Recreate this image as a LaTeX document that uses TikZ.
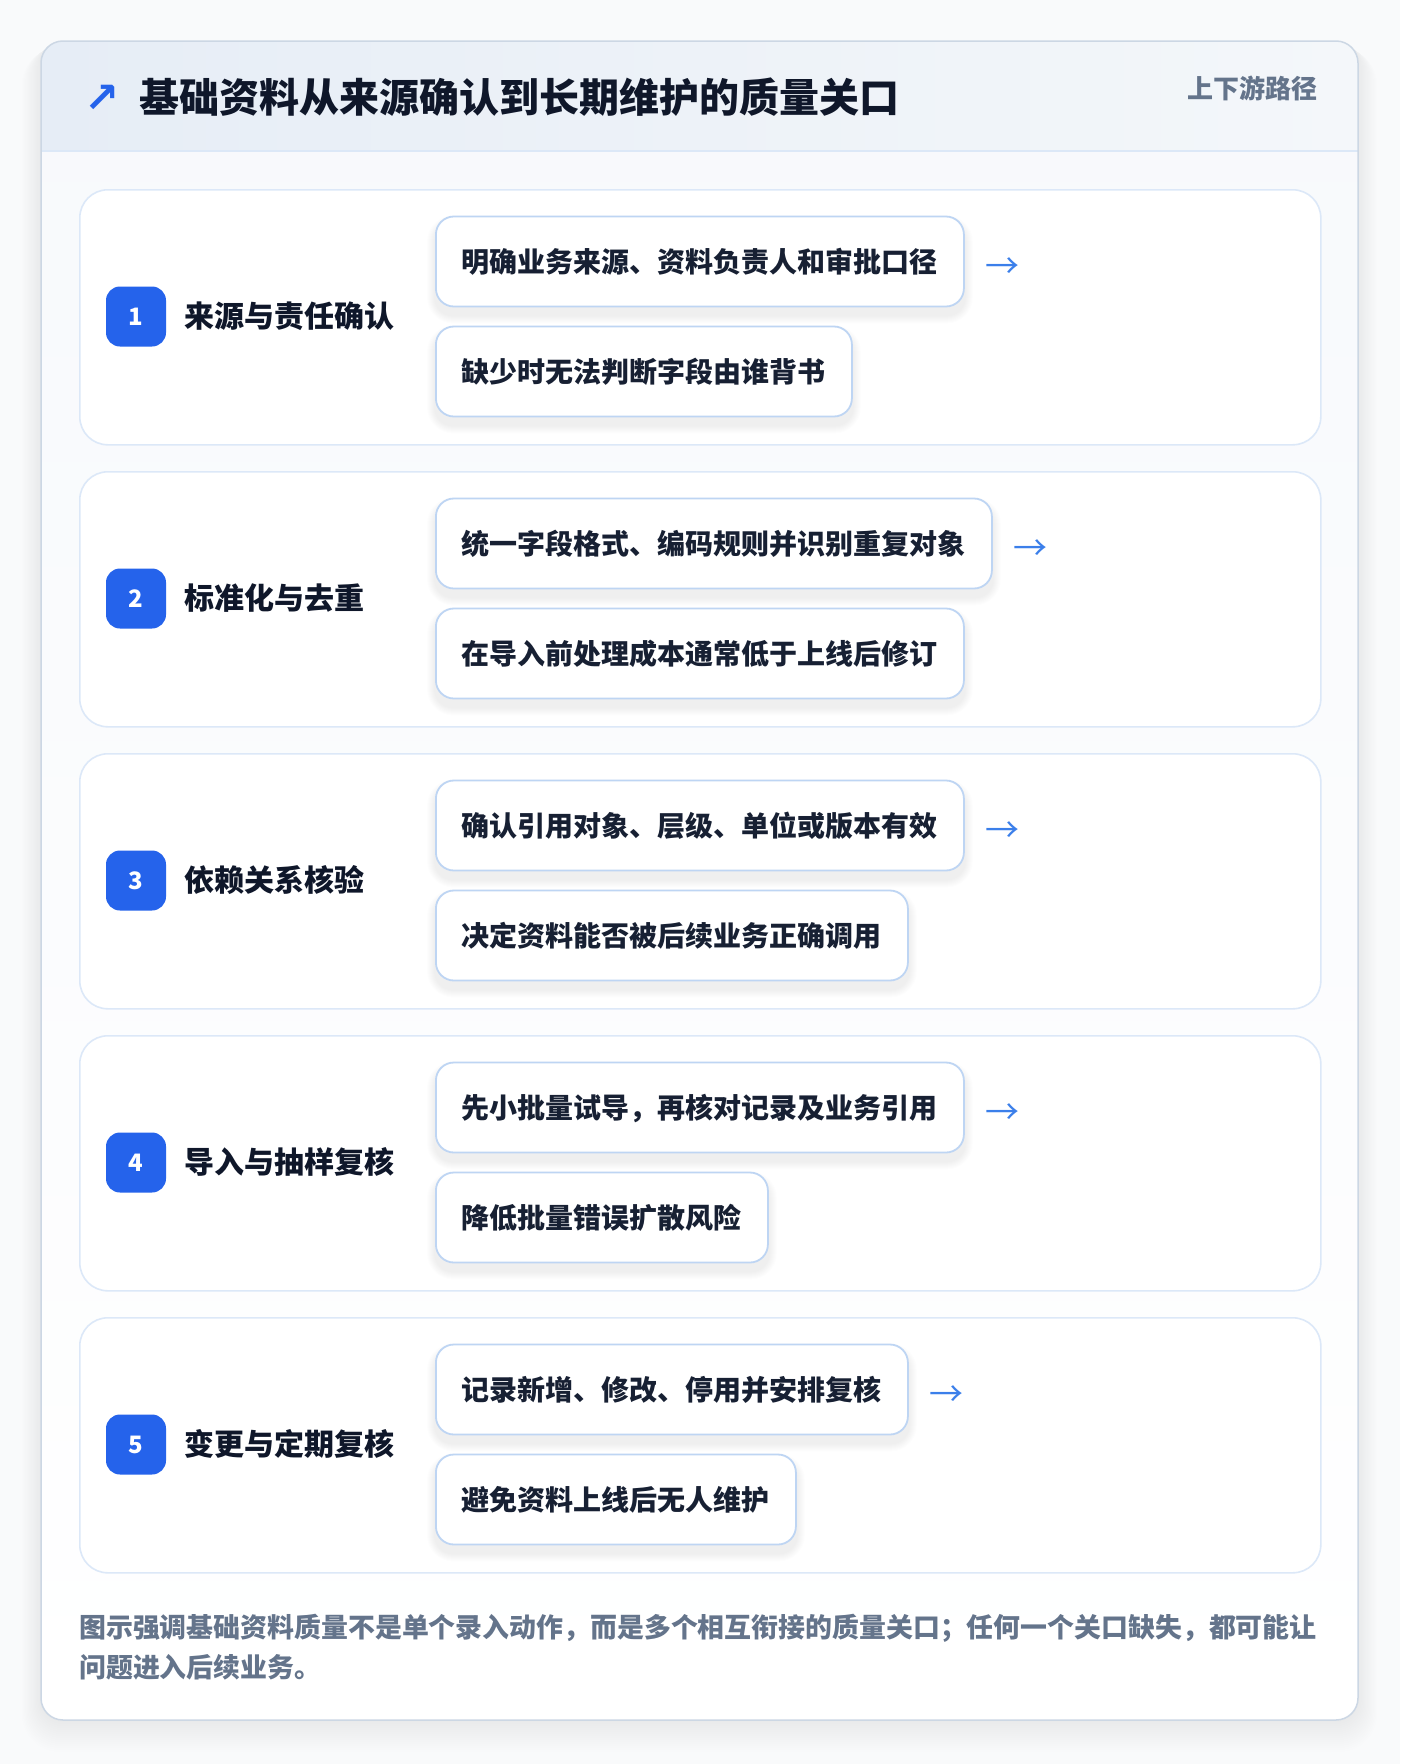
\documentclass[tikz,border=0pt]{standalone}
\usepackage{fontspec}
\setmainfont{Noto Sans CJK SC}
\newfontfamily\dejavu{DejaVu Sans}
\usetikzlibrary{calc}
\definecolor{pagebg}{HTML}{F9FAFB}
\definecolor{bodytop}{HTML}{F7F9FC}
\definecolor{hdrL}{HTML}{E6EDF6}
\definecolor{hdrR}{HTML}{F4F7FA}
\definecolor{hdrline}{HTML}{DCE8F7}
\definecolor{cardborder}{HTML}{CCD7E4}
\definecolor{panelborder}{HTML}{DCE8F8}
\definecolor{boxborder}{HTML}{BED5F3}
\definecolor{badgeblue}{HTML}{2563EB}
\definecolor{titledark}{HTML}{0F172A}
\definecolor{itemtext}{HTML}{172033}
\definecolor{slate}{HTML}{64748B}
\definecolor{arrowblue}{HTML}{3B7FEA}
\pgfdeclarelayer{back}
\pgfdeclarelayer{shad}
\pgfsetlayers{back,shad,main}
\tikzset{
  panel/.style={draw=panelborder, line width=1.6, fill=white, rounded corners=28, inner sep=0, minimum width=1241, minimum height=255},
  badge/.style={fill=badgeblue, rounded corners=14, minimum size=60, inner sep=0, text=white, font=\bfseries\fontsize{24}{24}\selectfont},
  steptitle/.style={text=titledark, inner sep=0, font=\bfseries\fontsize{30}{36}\selectfont, text height=26.4, text depth=3.6},
  itembox/.style={draw=boxborder, line width=1.8, fill=white, rounded corners=18, minimum height=90, inner xsep=26, inner ysep=0, text=itemtext, font=\bfseries\fontsize{28}{34}\selectfont, text height=24.6, text depth=3.4},
  arrowtxt/.style={text=arrowblue, inner sep=0, font=\fontsize{34}{34}\selectfont},
  notetxt/.style={text=slate, inner sep=0, anchor=west, font=\bfseries\fontsize{26.9}{34}\selectfont, text height=23.7, text depth=3.2}
}
\begin{document}
\begin{tikzpicture}[x=1pt,y=-1pt]
\useasboundingbox (0,0) rectangle (1400,1764);
\begin{pgfonlayer}{back}
\fill[pagebg] (0,0) rectangle (1400,1764);
\foreach \i in {1,...,16} {
  \fill[black, opacity=0.005, rounded corners=22+\i] (41-\i*1.2, 41+\i*0.4) rectangle (1358+\i*1.2, 1720+\i*2);
}
\shade[top color=bodytop, bottom color=white, rounded corners=22] (41,41) rectangle (1358,1720);
\begin{scope}
  \clip[rounded corners=22] (41,41) rectangle (1358,1720);
  \shade[left color=hdrL, right color=hdrR] (41,41) rectangle (1358,151);
\end{scope}
\draw[hdrline, line width=2] (41,151) -- (1358,151);
\draw[cardborder, line width=1.5, rounded corners=22] (41,41) rectangle (1358,1720);
\end{pgfonlayer}

\node[text=badgeblue, inner sep=0, font=\dejavu\bfseries\fontsize{42}{42}\selectfont] (tarrow) at (102,99) {↗};
\node[anchor=west, inner sep=0, text=titledark, font=\bfseries\fontsize{40}{48}\selectfont, text height=35.2, text depth=4.8] (title) at (139,97.5) {基础资料从来源确认到长期维护的质量关口};
\node[anchor=east, inner sep=0, text=slate, font=\bfseries\fontsize{26}{30}\selectfont, text height=22.9, text depth=3.1] (route) at (1318,89) {上下游路径};

\foreach \n/\ttl/\a/\b in {
  1/来源与责任确认/明确业务来源、资料负责人和审批口径/缺少时无法判断字段由谁背书,
  2/标准化与去重/统一字段格式、编码规则并识别重复对象/在导入前处理成本通常低于上线后修订,
  3/依赖关系核验/确认引用对象、层级、单位或版本有效/决定资料能否被后续业务正确调用,
  4/导入与抽样复核/先小批量试导，再核对记录及业务引用/降低批量错误扩散风险,
  5/变更与定期复核/记录新增、修改、停用并安排复核/避免资料上线后无人维护} {
  \pgfmathsetmacro\top{189+(\n-1)*282}
  \pgfmathsetmacro\cy{\top+127.5}
  \begin{pgfonlayer}{back}
    \node[panel, anchor=north west] (panel\n) at (79,\top) {};
  \end{pgfonlayer}
  \node[badge] (badge\n) at (136,\cy) {\n};
  \node[steptitle, anchor=west] (title\n) at (184,\cy) {\ttl};
  \node[itembox, anchor=west] (itemA\n) at (435,\cy-55) {\a};
  \node[itembox, anchor=west] (itemB\n) at (435,\cy+55) {\b};
  \node[arrowtxt, anchor=west] (arr\n) at ($(itemA\n.east)+(20,7)$) {→};
  \begin{pgfonlayer}{shad}
    \foreach \s in {1,...,8} {
      \fill[black, opacity=0.008, rounded corners=18+\s] ($(itemA\n.north west)+(-\s,8-\s)$) rectangle ($(itemA\n.south east)+(\s,8+\s)$);
      \fill[black, opacity=0.008, rounded corners=18+\s] ($(itemB\n.north west)+(-\s,8-\s)$) rectangle ($(itemB\n.south east)+(\s,8+\s)$);
    }
  \end{pgfonlayer}
}

\node[notetxt] (noteA) at (79,1627) {图示强调基础资料质量不是单个录入动作，而是多个相互衔接的质量关口；任何一个关口缺失，都可能让};
\node[notetxt] (noteB) at (79,1667) {问题进入后续业务。};
\end{tikzpicture}
\end{document}
